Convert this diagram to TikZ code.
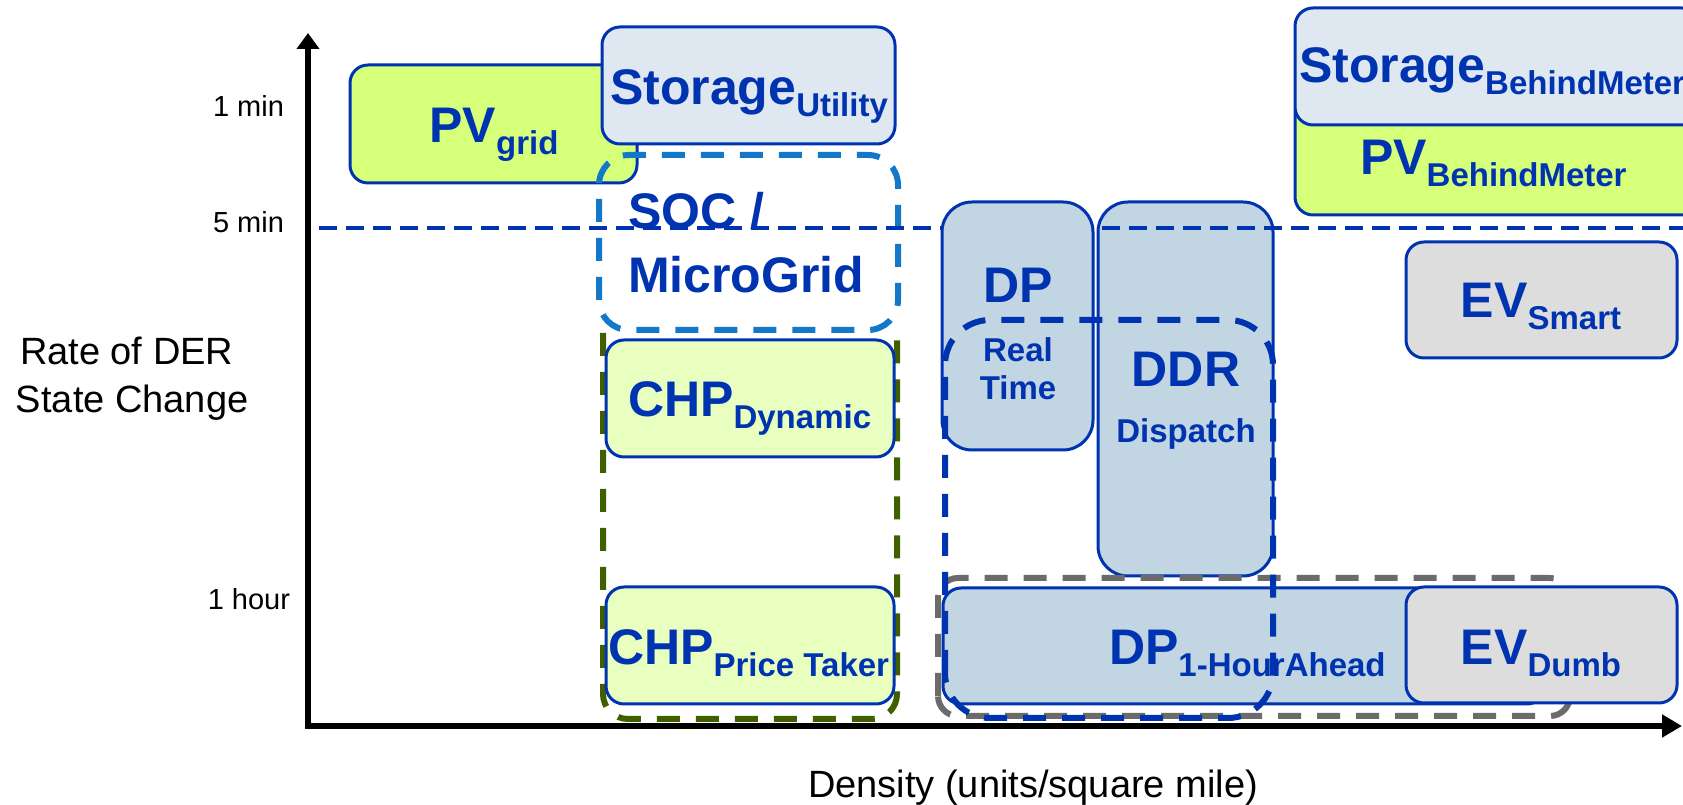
\documentclass[tikz,border=0pt]{standalone}
\usepackage{fontspec}
\setmainfont{Liberation Sans}
\usetikzlibrary{arrows.meta}
\definecolor{derBlue}{RGB}{0,51,176}
\definecolor{socBlue}{RGB}{20,120,200}
\definecolor{chpGreen}{RGB}{64,96,0}
\definecolor{grpGray}{RGB}{107,107,107}
\definecolor{pvFill}{RGB}{214,255,122}
\definecolor{chpFill}{RGB}{232,255,192}
\definecolor{storFill}{RGB}{223,231,240}
\definecolor{dpFill}{RGB}{194,213,227}
\definecolor{evFill}{RGB}{221,221,221}
\newcommand{\derlabel}[2]{{\fontsize{50}{56}\selectfont #1}\raisebox{-12pt}{\fontsize{33}{38}\selectfont #2}}
\begin{document}
\begin{tikzpicture}[x=1pt,y=1pt,
  derbox/.style={draw=derBlue,line width=3pt,rounded corners=18pt},
  tallbox/.style={derbox,rounded corners=30pt},
  grpline/.style={line width=6pt,dash pattern=on 23pt off 16pt,rounded corners=30pt},
  derlbl/.style={text=derBlue,font=\bfseries,inner sep=0pt,outer sep=0pt},
  biglbl/.style={derlbl,font=\bfseries\fontsize{50}{56}\selectfont},
  smalllbl/.style={derlbl,font=\bfseries\fontsize{33}{38}\selectfont},
  ticklbl/.style={anchor=base east,inner sep=0pt,outer sep=0pt,font=\fontsize{29}{34}\selectfont},
  axislbl/.style={inner sep=0pt,outer sep=0pt,font=\fontsize{38}{48}\selectfont}]
\path[use as bounding box,fill=white] (0,0) rectangle (1683,805);

% boxes, back to front
\path[derbox,fill=pvFill] (350,622) rectangle (637,740);
\path[derbox,fill=storFill] (602,661) rectangle (895,778);
\path[grpline,draw=chpGreen,rounded corners=25pt] (603,472) -- (603,86) -- (897,86) -- (897,472);
\path[grpline,draw=socBlue] (599,475) rectangle (898,650);
\path[derbox,fill=chpFill] (606,348) rectangle (894,465);
\path[derbox,fill=chpFill] (606,101) rectangle (894,218);
\path[tallbox,fill=dpFill] (1098,229) rectangle (1273,603);
\path[draw=derBlue,line width=4pt,dash pattern=on 18pt off 9pt] (319,577) -- (1683,577);
\path[tallbox,fill=dpFill] (942,355) rectangle (1093,603);
\path[grpline,draw=grpGray,rounded corners=20pt] (938,89) rectangle (1570,227);
\path[derbox,fill=dpFill] (943,101) rectangle (1545,217);
\path[derbox,fill=evFill] (1406,102) rectangle (1677,218);
\path[grpline,draw=derBlue,rounded corners=45pt] (945,87) rectangle (1273,485);
\path[derbox,fill=evFill] (1406,447) rectangle (1677,563);
\path[derbox,fill=pvFill] (1295,590) rectangle (1700,710);
\path[derbox,fill=storFill] (1295,680) rectangle (1700,797);

% labels in the boxes
\node[derlbl,anchor=base] (pvgrid) at (494,662) {\derlabel{PV}{grid}};
\node[derlbl,anchor=base] (storutil) at (749,700) {\derlabel{Storage}{Utility}};
\node[biglbl,anchor=base west] (soc) at (628,576) {SOC /};
\node[biglbl,anchor=base west] (microgrid) at (628,512) {MicroGrid};
\node[derlbl,anchor=base west] (chpdyn) at (628,388) {\derlabel{CHP}{Dynamic}};
\node[derlbl,anchor=base west] (chpprice) at (608,140) {\derlabel{CHP}{Price Taker}};
\node[biglbl,anchor=base] (dprt) at (1018,502) {DP};
\node[smalllbl,anchor=base] (real) at (1018,443) {Real};
\node[smalllbl,anchor=base] (time) at (1018,405) {Time};
\node[biglbl,anchor=base] (ddr) at (1186,418) {DDR};
\node[smalllbl,anchor=base] (dispatch) at (1186,362) {Dispatch};
\node[derlbl,anchor=base west] (dphour) at (1109,140) {\derlabel{DP}{1-HourAhead}};
\node[derlbl,anchor=base] (evdumb) at (1541,140) {\derlabel{EV}{Dumb}};
\node[derlbl,anchor=base] (evsmart) at (1541,487) {\derlabel{EV}{Smart}};
\node[derlbl,anchor=base west] (pvbm) at (1360,630) {\derlabel{PV}{BehindMeter}};
\node[derlbl,anchor=base west] (storbm) at (1299,722) {\derlabel{Storage}{BehindMeter}};

% axes
\coordinate (origin) at (308,79);
\coordinate (ytip) at (308,772);
\coordinate (xtip) at (1682,79);
\draw[line width=6pt,-{Triangle[length=16pt,width=22pt]}] (origin) -- (ytip);
\draw[line width=6pt,-{Triangle[length=20pt,width=22pt]}] (305,79) -- (xtip);

\node[ticklbl] (onemin) at (284,688) {1 min};
\node[ticklbl] (fivemin) at (284,572) {5 min};
\node[ticklbl] (onehour) at (290,195) {1 hour};
\node[axislbl,anchor=base west] (rate) at (20,440) {Rate of DER};
\node[axislbl,anchor=base west] (state) at (16,392) {State Change};
\node[axislbl,anchor=base] (density) at (1033,7) {Density (units/square mile)};
\end{tikzpicture}
\end{document}
